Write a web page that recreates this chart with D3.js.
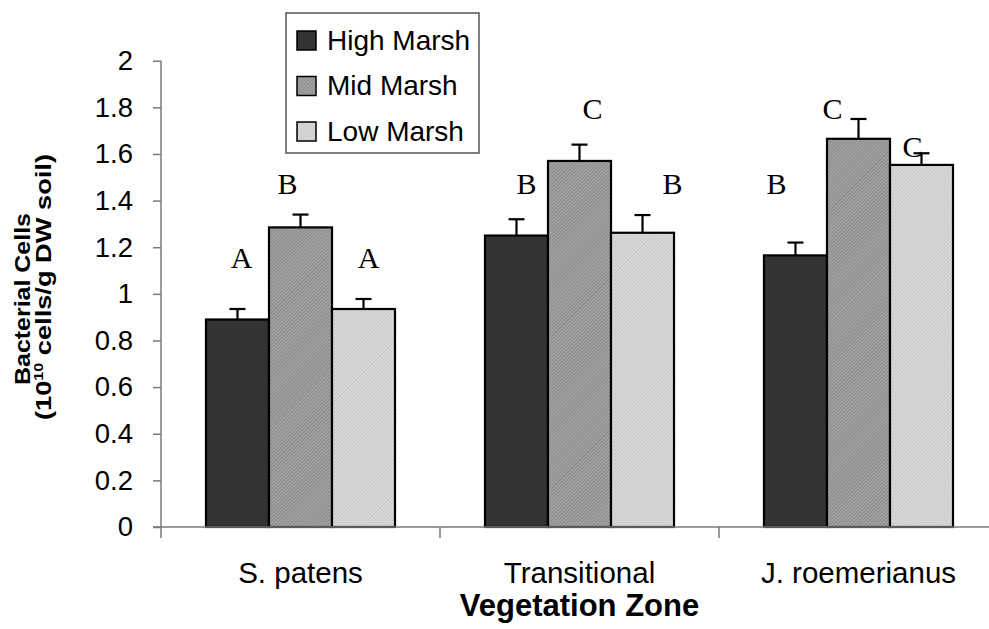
<!DOCTYPE html>
<html>
<head>
<meta charset="utf-8">
<script src="https://cdn.jsdelivr.net/npm/d3@7"></script>
<style>
  html, body { margin: 0; padding: 0; background: #fff; }
  svg { display: block; overflow: hidden; }
  .sans { font-family: Arial, "Liberation Sans", sans-serif; }
  .serif { font-family: "Times New Roman", "Liberation Serif", serif; }
</style>
</head>
<body>
<svg id="chart" width="989" height="629"></svg>
<script>
// Bacterial cell counts by vegetation zone and marsh elevation
const categories = ["S. patens", "Transitional", "J. roemerianus"];
const seriesNames = ["High Marsh", "Mid Marsh", "Low Marsh"];

const highMarsh = [0.89, 1.25, 1.165];
const midMarsh = [1.285, 1.57, 1.665];
const lowMarsh = [0.935, 1.262, 1.553];

const highErr = [0.045, 0.07, 0.055];
const midErr = [0.055, 0.07, 0.085];
const lowErr = [0.043, 0.076, 0.05];

// significance groups
const highLetters = ["A", "B", "B"];
const midLetters = ["B", "C", "C"];
const lowLetters = ["A", "B", "C"];

const yTicks = [0, 0.2, 0.4, 0.6, 0.8, 1, 1.2, 1.4, 1.6, 1.8, 2];

// placement of the significance letters: baseline level (axis units) and horizontal shift (px)
const letterPlacement = {
  "High Marsh": { level: [1.111, 1.428, 1.428], dx: [4, 10, -19] },
  "Mid Marsh":  { level: [1.428, 1.748, 1.748], dx: [-13, 13, -26] },
  "Low Marsh":  { level: [1.111, 1.428, 1.587], dx: [5, 30, -9] }
};

const series = [
  { name: "High Marsh", values: highMarsh, err: highErr, letters: highLetters, fill: "#333333" },
  { name: "Mid Marsh", values: midMarsh, err: midErr, letters: midLetters, fill: "url(#patMid)" },
  { name: "Low Marsh", values: lowMarsh, err: lowErr, letters: lowLetters, fill: "url(#patLow)" }
];

const svg = d3.select("#chart");
const plotLeft = 161, plotRight = 998, plotTop = 60.7, plotBottom = 527;

// textures for the mid and low marsh bars
const defs = svg.append("defs");
function hatch(id, base, line) {
  const p = defs.append("pattern")
    .attr("id", id).attr("patternUnits", "userSpaceOnUse")
    .attr("width", 2.5).attr("height", 2.5)
    .attr("patternTransform", "rotate(45)");
  p.append("rect").attr("width", 2.5).attr("height", 2.5).attr("fill", base);
  p.append("rect").attr("width", 1).attr("height", 2.5).attr("fill", line);
}
hatch("patMid", "#a6a6a6", "#868686");
hatch("patLow", "#dcdcdc", "#c4c4c4");

const x = d3.scaleBand().domain(categories).range([plotLeft, plotRight]).paddingInner(0).paddingOuter(0);
const xs = d3.scaleBand().domain(seriesNames).range([0, x.bandwidth()]).paddingInner(0).paddingOuter(0.714);
const y = d3.scaleLinear().domain([0, 2]).range([plotBottom, plotTop]);

// bars
const groups = svg.append("g").selectAll("g").data(series).join("g");
groups.selectAll("rect")
  .data(s => categories.map((c, i) => ({ c, v: s.values[i], s })))
  .join("rect")
  .attr("x", d => x(d.c) + xs(d.s.name))
  .attr("y", d => y(d.v))
  .attr("width", xs.bandwidth())
  .attr("height", d => y(0) - y(d.v))
  .attr("fill", d => d.s.fill)
  .attr("stroke", "#000")
  .attr("stroke-width", 2.2);

// upper error bars
const eb = svg.append("g").attr("stroke", "#000").attr("stroke-width", 2.2);
series.forEach(s => {
  categories.forEach((c, i) => {
    const cx = x(c) + xs(s.name) + xs.bandwidth() / 2;
    eb.append("line").attr("x1", cx).attr("x2", cx)
      .attr("y1", y(s.values[i])).attr("y2", y(s.values[i] + s.err[i]));
    eb.append("line").attr("x1", cx - 8).attr("x2", cx + 8)
      .attr("y1", y(s.values[i] + s.err[i])).attr("y2", y(s.values[i] + s.err[i]));
  });
});

// significance letters
const lt = svg.append("g").attr("class", "serif").attr("font-size", 30).attr("text-anchor", "middle");
series.forEach(s => {
  const pl = letterPlacement[s.name];
  categories.forEach((c, i) => {
    lt.append("text")
      .attr("x", x(c) + xs(s.name) + xs.bandwidth() / 2 + pl.dx[i])
      .attr("y", y(pl.level[i]))
      .text(s.letters[i]);
  });
});

// y axis
const yAxis = svg.append("g")
  .attr("transform", `translate(${plotLeft},0)`)
  .call(d3.axisLeft(y).tickValues(yTicks).tickSize(8).tickPadding(20)
    .tickFormat(d => String(+d.toFixed(1))));
yAxis.select(".domain").remove();
yAxis.selectAll(".tick line").attr("stroke", "#7a7a7a").attr("stroke-width", 1.5);
yAxis.selectAll(".tick text").attr("font-size", 27.5).attr("fill", "#000")
  .attr("font-family", "Arial, 'Liberation Sans', sans-serif");
yAxis.append("line").attr("x1", 0).attr("x2", 0).attr("y1", y(2)).attr("y2", plotBottom + 11)
  .attr("stroke", "#7a7a7a").attr("stroke-width", 1.5);

// x axis: baseline with ticks at category boundaries
const xa = svg.append("g").attr("stroke", "#7a7a7a").attr("stroke-width", 1.5);
xa.append("line").attr("x1", plotLeft - 8).attr("x2", plotRight).attr("y1", plotBottom).attr("y2", plotBottom);
categories.slice(1).concat([null]).forEach(c => {
  const px = c === null ? plotRight : x(c);
  xa.append("line").attr("x1", px).attr("x2", px).attr("y1", plotBottom).attr("y2", plotBottom + 11);
});

svg.append("g").attr("class", "sans").attr("font-size", 29.5).attr("text-anchor", "middle")
  .selectAll("text").data(categories).join("text")
  .attr("x", d => x(d) + x.bandwidth() / 2)
  .attr("y", 583)
  .text(d => d);

// axis titles
svg.append("text").attr("class", "sans").attr("font-size", 31).attr("font-weight", "bold")
  .attr("text-anchor", "middle").attr("x", (plotLeft + plotRight) / 2).attr("y", 616)
  .text("Vegetation Zone");

const yt = svg.append("g").attr("class", "sans").attr("font-weight", "bold").attr("text-anchor", "middle");
yt.append("text").attr("font-size", 22)
  .attr("transform", "translate(30,299) rotate(-90)")
  .attr("textLength", 172).attr("lengthAdjust", "spacingAndGlyphs")
  .text("Bacterial Cells");
const l2 = yt.append("text").attr("font-size", 22)
  .attr("transform", "translate(51,287) rotate(-90)")
  .attr("textLength", 266).attr("lengthAdjust", "spacingAndGlyphs");
l2.append("tspan").text("(10");
l2.append("tspan").attr("font-size", 13).attr("dy", -8).text("10");
l2.append("tspan").attr("dy", 8).text(" cells/g DW soil)");

// legend
const lg = svg.append("g");
lg.append("rect").attr("x", 286).attr("y", 13).attr("width", 193).attr("height", 140)
  .attr("fill", "#fff").attr("stroke", "#555").attr("stroke-width", 1.5);
series.forEach((s, i) => {
  const row = lg.append("g").attr("transform", `translate(297,${31 + i * 45.5})`);
  row.append("rect").attr("width", 19).attr("height", 19)
    .attr("fill", s.fill).attr("stroke", "#000").attr("stroke-width", 1.5);
  row.append("text").attr("class", "sans").attr("font-size", 28)
    .attr("x", 30).attr("y", 18.5).text(s.name);
});
</script>
</body>
</html>
